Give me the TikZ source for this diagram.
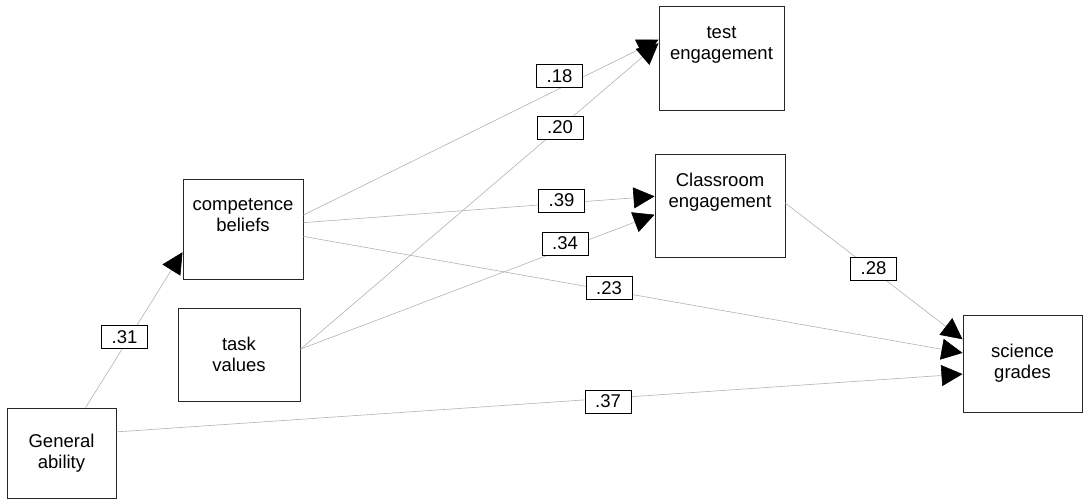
\documentclass[tikz,border=0pt]{standalone}
\usepackage{fontspec}
\setmainfont{Liberation Sans}
\usetikzlibrary{arrows.meta}

\begin{document}
\begin{tikzpicture} [x=1pt, y=-1pt,
            font=\fontsize{18.5}{21}\selectfont,
            box/.style={rectangle, draw=black!85, line width=1pt, inner sep=0pt, align=center},
            lbl/.style={rectangle, draw=black, fill=white, line width=0.8pt, inner sep=0pt, minimum width=46pt, minimum height=23pt},
            link/.style={draw=black!30, line width=0.6pt, -{Triangle[length=21pt,width=21pt,color=black]}},]
        \useasboundingbox (0,0) rectangle (1083,500);
        \node[box, minimum width=109pt, minimum height=90pt](ga) at (61.5,453){General\\ability};
        \node[box, minimum width=120pt, minimum height=100pt](cb) at (243,229){competence\\beliefs\\[6pt]};
        \node[box, minimum width=122pt, minimum height=93pt](tv) at (239,354.5){task\\values};
        \node[box, minimum width=125pt, minimum height=104pt](te) at (721.5,59){test\\engagement\\[10pt]};
        \node[box, minimum width=130pt, minimum height=103pt](ce) at (720,205.5){Classroom\\engagement\\[10pt]};
        \node[box, minimum width=119pt, minimum height=97pt](sg) at (1022.5,363.5){science\\grades};
        \draw[link] (ga.62) -- (cb.201);
        \draw[link] (cb.13) -- (te.163);
        \draw[link] (tv.5) -- (te.166);
        \draw[link] (cb.6) -- (ce.172.5);
        \draw[link] (tv.5) -- (ce.188.3);
        \draw[link] (cb.353) -- (sg.170);
        \draw[link] (ce.2) -- (sg.158);
        \draw[link] (ga.21) -- (sg.190.6);
        \node[lbl](l31) at (124.5,337){.31};
        \node[lbl](l18) at (559.5,76){.18};
        \node[lbl](l20) at (560,127.5){.20};
        \node[lbl](l39) at (561.5,200.5){.39};
        \node[lbl](l34) at (565,243.5){.34};
        \node[lbl](l23) at (609,288){.23};
        \node[lbl](l37) at (608,401.5){.37};
        \node[lbl](l28) at (873.5,268.5){.28};
    \end{tikzpicture}
\end{document}
